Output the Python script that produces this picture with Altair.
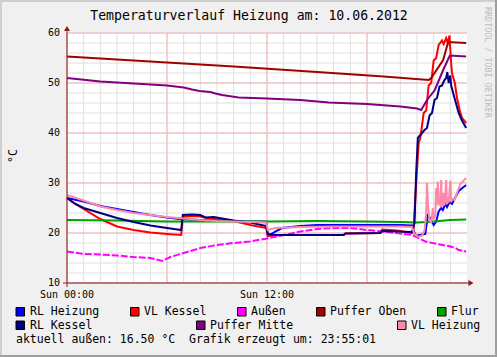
import altair as alt
import pandas as pd

FONT = "DejaVu Sans Mono"

# ---------------- data (hours since Sun 00:00, °C) ----------------
rl_heizung_h = [0, 1, 2, 3, 4, 5, 6, 6.75, 8, 9, 10, 11, 11.95, 12.05, 12.5, 12.9, 14, 15, 16, 18, 20, 20.7,
                20.9, 21.0, 21.5, 21.65, 21.8, 22.0, 22.15, 22.3, 22.45, 22.55, 22.7, 22.8, 22.95, 23.1, 23.25, 23.5, 23.95]
rl_heizung_v = [27.0, 26.3, 25.4, 24.8, 24.2, 23.6, 23.1, 22.8, 22.6, 22.5, 22.4, 22.3, 22.3, 19.4, 20.3, 21.0, 21.4, 21.6, 21.6, 21.6, 21.6, 21.5,
                19.6, 19.5, 19.8, 23.5, 23.0, 21.6, 22.3, 24.3, 25.0, 24.6, 25.8, 25.2, 26.2, 25.8, 26.8, 28.4, 29.6]

vl_kessel_h = [0, 0.5, 1, 2, 3, 4, 5, 6, 6.85, 6.95, 7.5, 8, 8.5, 9.5, 10, 11, 11.95, 12.05, 13, 16.6, 16.7, 18.8, 18.9, 19.8, 20.7,
               20.8, 20.95, 21.1, 21.2, 21.4, 21.55, 21.7, 21.85, 22.0, 22.15, 22.3, 22.5, 22.6, 22.75, 22.85, 22.95,
               23.05, 23.1, 23.27, 23.4, 23.56, 23.7, 23.95]
vl_kessel_v = [27.0, 25.8, 24.8, 22.8, 21.3, 20.6, 20.1, 19.8, 19.6, 23.2, 23.4, 23.3, 22.9, 22.6, 22.4, 21.6, 21.0, 19.4, 19.6, 19.6, 19.9, 20.0, 20.7, 20.5, 20.0,
               21.0, 30.0, 38.0, 39.0, 44.0, 44.5, 49.5, 50.0, 54.5, 55.0, 57.6, 58.5, 57.8, 59.0, 58.0, 59.5,
               54.0, 52.0, 50.0, 47.0, 44.6, 43.0, 42.0]

aussen_h = [0, 1, 2, 3, 4, 5, 5.7, 6.2, 7, 8, 9, 10, 11, 12, 13, 14, 15, 16, 17, 18, 19, 20, 20.7,
            21.2, 21.5, 22.2, 22.9, 23.3, 23.5, 23.95]
aussen_v = [16.3, 15.8, 15.7, 15.5, 15.2, 15.0, 14.4, 15.2, 16.0, 17.0, 17.6, 18.0, 18.3, 18.9, 19.6, 20.3, 20.8, 21.0, 21.0, 20.6, 20.3, 19.9, 19.6,
            18.8, 18.3, 17.8, 17.4, 17.0, 16.6, 16.3]

puffer_oben_h = [0, 5, 10, 15, 19, 21.7, 21.85, 22.57, 22.87, 23.95]
puffer_oben_v = [55.3, 54.3, 53.3, 52.2, 51.3, 50.6, 51.0, 54.6, 58.2, 58.0]

flur_h = [0, 3, 6, 9, 12, 15, 18, 20, 21, 21.5, 22, 23, 23.95]
flur_v = [22.6, 22.5, 22.3, 22.3, 22.3, 22.4, 22.3, 22.2, 22.1, 22.2, 22.3, 22.6, 22.7]

rl_kessel_h = [0, 0.5, 1, 2, 3, 4, 5, 6, 6.85, 6.95, 7.5, 8, 8.3, 8.8, 9.3, 10, 11, 11.95, 12.05, 12.5, 16.6, 16.7, 18.8, 18.9, 20.7,
               20.85, 20.95, 21.05, 21.3, 21.45, 21.6, 21.75, 21.9, 22.05, 22.2, 22.35, 22.5, 22.65, 22.75, 22.82, 22.9,
               23.0, 23.05, 23.25, 23.5, 23.7, 23.95]
rl_kessel_v = [27.0, 25.8, 25.0, 24.0, 23.0, 22.2, 21.5, 21.0, 20.6, 23.6, 23.7, 23.6, 23.1, 23.2, 22.9, 22.5, 22.1, 21.4, 19.8, 19.6, 19.6, 19.9, 20.0, 20.4, 20.2,
               22.0, 32.0, 39.0, 40.0, 40.6, 41.0, 43.5, 44.0, 46.6, 47.0, 49.3, 49.5, 50.6, 51.0, 52.2, 50.0,
               51.5, 49.5, 47.0, 44.0, 42.5, 41.0]

puffer_mitte_h = [0, 2, 4, 6, 7, 7.5, 7.95, 8.6, 8.9, 9.3, 10.3, 12, 14, 15.7, 18, 20, 21.0, 21.25,
                  21.6, 22.07, 22.57, 22.97, 23.95]
puffer_mitte_v = [51.0, 50.3, 49.9, 49.5, 49.1, 48.7, 48.4, 48.2, 47.9, 47.6, 47.1, 46.9, 46.6, 46.1, 45.8, 45.3, 44.9, 44.6,
                  46.6, 48.6, 52.6, 55.5, 55.3]

vl_heizung_h = [0, 1, 2, 3, 4, 5, 6, 7, 8, 9, 10, 11, 11.95, 12.05, 12.5, 14, 16, 18, 20, 20.7,
                20.85, 21.1, 21.3, 21.45, 21.55, 21.6, 21.65, 21.75, 21.85, 21.95, 22.0, 22.1, 22.15, 22.2, 22.25,
                22.3, 22.4, 22.45, 22.5, 22.6, 22.65, 22.75, 22.8, 22.9, 23.0, 23.05, 23.15, 23.25, 23.4, 23.6, 23.95]
vl_heizung_v = [27.6, 26.5, 25.3, 24.6, 24.0, 23.6, 23.2, 22.9, 22.6, 22.4, 22.3, 22.2, 22.1, 20.6, 21.0, 21.2, 21.3, 21.3, 21.3, 21.2,
                19.8, 19.2, 19.5, 20.5, 24.0, 30.0, 26.0, 22.5, 22.2, 25.0, 22.8, 23.5, 29.0, 25.5, 30.3,
                26.0, 25.5, 30.6, 25.3, 28.0, 25.5, 30.6, 26.0, 26.2, 30.5, 26.5, 26.8, 26.6, 28.0, 29.8, 31.0]

names = ["RL Heizung", "VL Kessel", "Außen", "Puffer Oben", "Flur", "RL Kessel", "Puffer Mitte", "VL Heizung"]
colors = ["#0000ff", "#ff0000", "#ff00ff", "#a00000", "#00a000", "#000080", "#800080", "#ff88aa"]
series_h = [rl_heizung_h, vl_kessel_h, aussen_h, puffer_oben_h, flur_h, rl_kessel_h, puffer_mitte_h, vl_heizung_h]
series_v = [rl_heizung_v, vl_kessel_v, aussen_v, puffer_oben_v, flur_v, rl_kessel_v, puffer_mitte_v, vl_heizung_v]

y_ticks = [10, 20, 30, 40, 50, 60]
x_tick_h = [0, 12]
x_tick_labels = ["Sun 00:00", "Sun 12:00"]
minor_x = list(range(0, 24))
major_x = [0, 6, 12, 18]
minor_y = list(range(10, 61, 2))
major_y = y_ticks

title_text = "Temperaturverlauf Heizung am: 10.06.2012"
footer_text = "aktuell außen: 16.50 °C\u00a0 Grafik erzeugt um: 23:55:01"
watermark = "RRDTOOL / TOBI OETIKER"

# ---------------- layout ----------------
L, T, W, H = 67, 33, 400, 250
XS = alt.Scale(domain=[0, 24], nice=False, zero=False)
YS = alt.Scale(domain=[10, 60], nice=False, zero=False)
one = pd.DataFrame({"k": [0]})
AXC = "#8f1c1c"

layers = []

def vgrid(vals, color):
    d = pd.DataFrame({"h": vals})
    return alt.Chart(d).mark_rule(color=color, strokeWidth=1).encode(
        x=alt.X("h:Q", scale=XS, axis=None), y=alt.value(0), y2=alt.value(H))

def hgrid(vals, color):
    d = pd.DataFrame({"v": vals})
    return alt.Chart(d).mark_rule(color=color, strokeWidth=1).encode(
        y=alt.Y("v:Q", scale=YS, axis=None), x=alt.value(0), x2=alt.value(W))

layers += [vgrid(minor_x, "#dedede"), hgrid(minor_y, "#dedede"),
           vgrid(major_x, "#f3b3b3"), hgrid(major_y, "#f3b3b3")]

for name, hs, vs, col in zip(names, series_h, series_v, colors):
    d = pd.DataFrame({"h": hs, "v": vs})
    kw = dict(color=col, strokeWidth=2, interpolate="linear")
    if name == "Außen":
        kw["strokeDash"] = [7, 2]
    layers.append(alt.Chart(d).mark_line(**kw).encode(
        x=alt.X("h:Q", scale=XS, axis=None), y=alt.Y("v:Q", scale=YS, axis=None)))

# axes lines and arrows
layers.append(alt.Chart(one).mark_rule(color=AXC, strokeWidth=1).encode(
    x=alt.value(-4), x2=alt.value(W + 3), y=alt.value(H)))
layers.append(alt.Chart(one).mark_rule(color=AXC, strokeWidth=1).encode(
    x=alt.value(0), y=alt.value(H + 4), y2=alt.value(-3)))
layers.append(alt.Chart(one).mark_point(shape="triangle-up", filled=True, size=36, color=AXC, opacity=1).encode(
    x=alt.value(0), y=alt.value(-4.5)))
layers.append(alt.Chart(one).mark_point(shape="triangle-right", filled=True, size=36, color=AXC, opacity=1).encode(
    x=alt.value(W + 4), y=alt.value(H)))

# tick labels
yt = pd.DataFrame({"v": y_ticks, "lab": [str(v) for v in y_ticks]})
layers.append(alt.Chart(yt).mark_text(font=FONT, fontSize=10, color="#000", align="right", baseline="middle").encode(
    y=alt.Y("v:Q", scale=YS, axis=None), x=alt.value(-7), text="lab:N"))
xt = pd.DataFrame({"h": x_tick_h, "lab": x_tick_labels})
layers.append(alt.Chart(xt).mark_text(font=FONT, fontSize=10, color="#000", align="center", baseline="alphabetic").encode(
    x=alt.X("h:Q", scale=XS, axis=None), y=alt.value(298.3 - T), text="lab:N"))

def text_at(s, ax, ay, size, color="#000", angle=0, align="left", baseline="alphabetic"):
    return alt.Chart(one).mark_text(text=s, font=FONT, fontSize=size, color=color, angle=angle,
                                    align=align, baseline=baseline).encode(
        x=alt.value(ax - L), y=alt.value(ay - T))

layers.append(text_at(title_text, 249, 20, 13.2, align="center"))
layers.append(text_at("°C", 14, 156, 11.5, angle=270, align="center", baseline="middle"))
layers.append(text_at(watermark, 487.5, 7, 8.4, color="#bdbdbd", angle=90, align="left", baseline="middle"))
layers.append(text_at(footer_text, 16, 343.3, 11.5))

# legend
sw_x = [16, 130.5, 237.5, 316.5, 437.5, 16, 196.5, 397.5]
sw_y = [307.5] * 5 + [321] * 3
tx_x = [30, 144, 251, 330, 451, 30, 210, 411]
tx_y = [315.3] * 5 + [329] * 3
for name, col, sx, sy, tx, ty in zip(names, colors, sw_x, sw_y, tx_x, tx_y):
    layers.append(alt.Chart(one).mark_rect(color=col, stroke="#000", strokeWidth=1).encode(
        x=alt.value(sx - L), x2=alt.value(sx + 8.5 - L), y=alt.value(sy - T), y2=alt.value(sy + 8.5 - T)))
    layers.append(text_at(name, tx, ty, 11.5))

# 3D frame
layers.append(alt.Chart(one).mark_rule(color="#cfcfcf", strokeWidth=2).encode(
    x=alt.value(-L), x2=alt.value(497 - L), y=alt.value(1 - T)))
layers.append(alt.Chart(one).mark_rule(color="#cfcfcf", strokeWidth=2).encode(
    x=alt.value(1 - L), y=alt.value(-T), y2=alt.value(357 - T)))
layers.append(alt.Chart(one).mark_rule(color="#9e9e9e", strokeWidth=2).encode(
    x=alt.value(-L), x2=alt.value(497 - L), y=alt.value(356 - T)))
layers.append(alt.Chart(one).mark_rule(color="#9e9e9e", strokeWidth=2).encode(
    x=alt.value(496 - L), y=alt.value(-T), y2=alt.value(357 - T)))

chart = alt.layer(*layers).properties(
    width=W, height=H, autosize="none",
    padding={"left": L, "top": T, "right": 497 - L - W, "bottom": 357 - T - H},
    background="#f0f0f0",
).configure_view(fill="white", stroke=None)

chart.save("out.html", embed_options={"renderer": "svg", "actions": False})
